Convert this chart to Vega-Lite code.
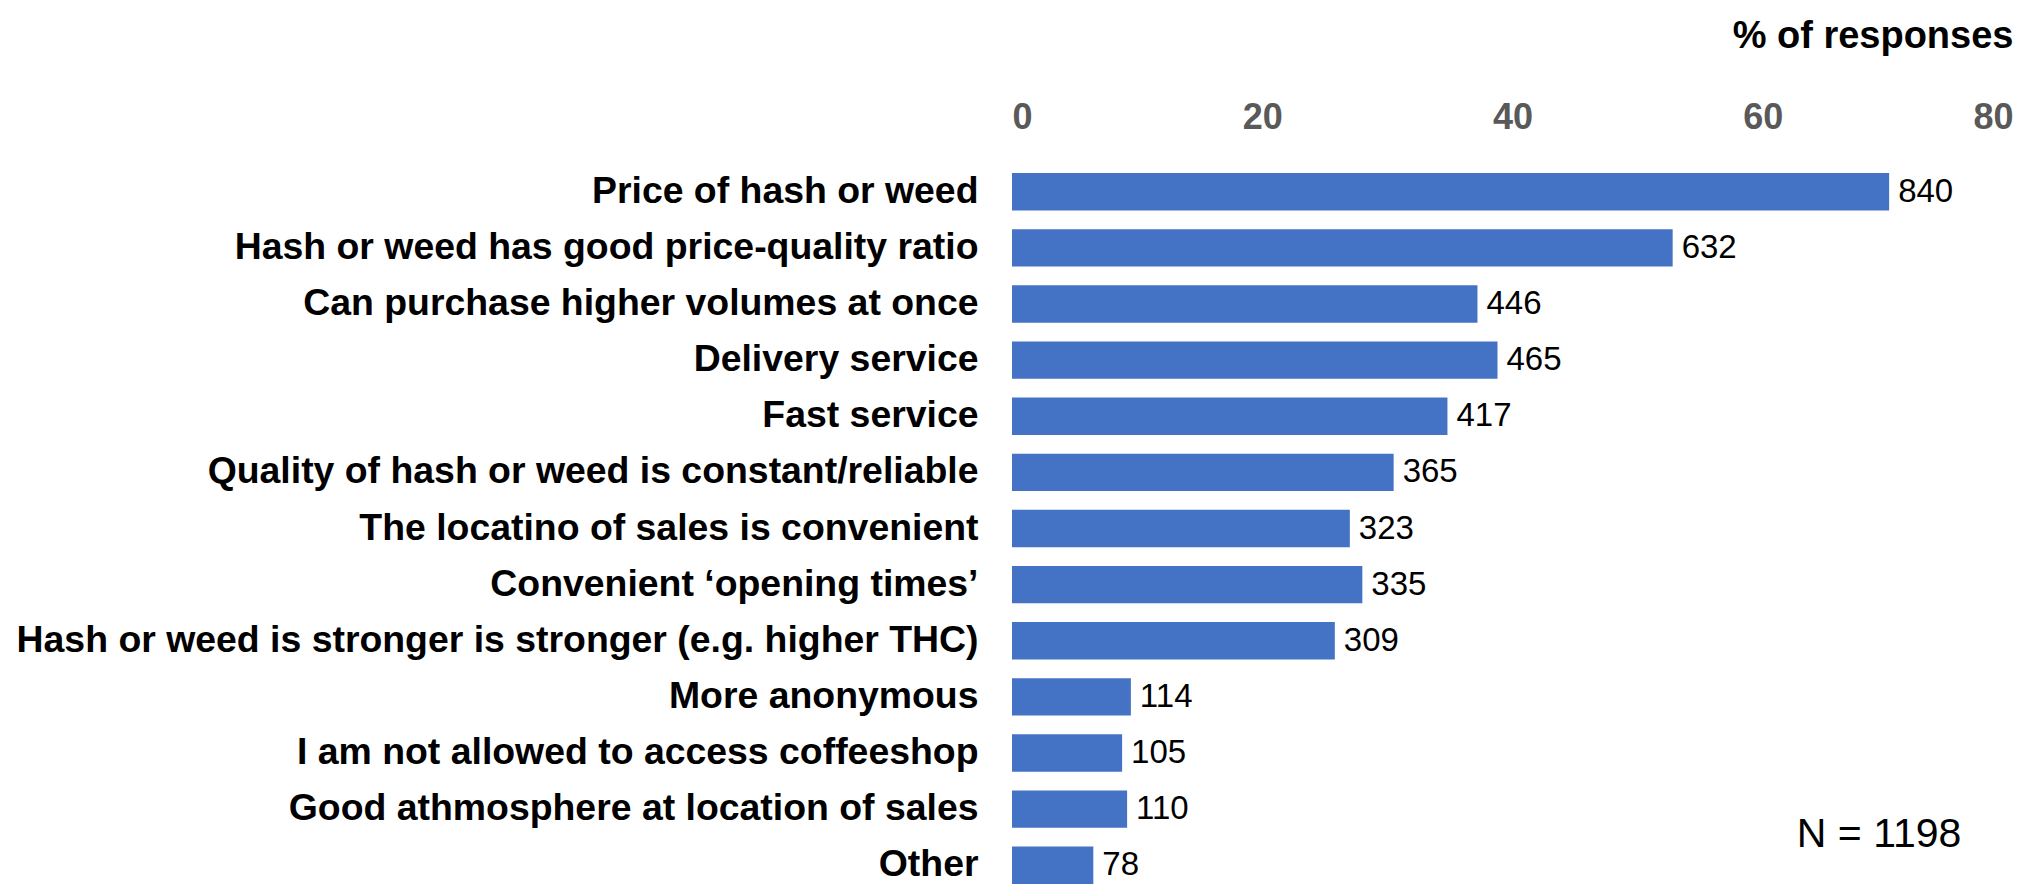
{
  "$schema": "https://vega.github.io/schema/vega-lite/v6.json",
  "width": 1001,
  "height": 711,
  "autosize": {"type": "none"},
  "padding": {"left": 1012, "top": 173, "right": 31, "bottom": 0},
  "background": "white",
  "config": {"view": {"stroke": null}, "font": "Liberation Sans"},
  "layer": [
    {
      "data": {
        "values": [
          {"reason": "Price of hash or weed", "pct": 70.1, "count": 840},
          {"reason": "Hash or weed has good price-quality ratio", "pct": 52.8, "count": 632},
          {"reason": "Can purchase higher volumes at once", "pct": 37.2, "count": 446},
          {"reason": "Delivery service", "pct": 38.8, "count": 465},
          {"reason": "Fast service", "pct": 34.8, "count": 417},
          {"reason": "Quality of hash or weed is constant/reliable", "pct": 30.5, "count": 365},
          {"reason": "The locatino of sales is convenient", "pct": 27.0, "count": 323},
          {"reason": "Convenient ‘opening times’", "pct": 28.0, "count": 335},
          {"reason": "Hash or weed is stronger is stronger (e.g. higher THC)", "pct": 25.8, "count": 309},
          {"reason": "More anonymous", "pct": 9.5, "count": 114},
          {"reason": "I am not allowed to access coffeeshop", "pct": 8.8, "count": 105},
          {"reason": "Good athmosphere at location of sales", "pct": 9.2, "count": 110},
          {"reason": "Other", "pct": 6.5, "count": 78}
        ]
      },
      "encoding": {
        "y": {
          "field": "reason",
          "type": "nominal",
          "sort": null,
          "scale": {"paddingInner": 0.333, "paddingOuter": 0},
          "axis": {
            "title": null,
            "domain": false,
            "ticks": false,
            "grid": false,
            "labelFontSize": 37.4,
            "labelFontWeight": "bold",
            "labelColor": "#000000",
            "labelPadding": 34,
            "labelLimit": 2000
          }
        },
        "x": {
          "field": "pct",
          "type": "quantitative",
          "scale": {"domain": [0, 80]},
          "axis": {
            "orient": "top",
            "values": [0, 20, 40, 60, 80],
            "domain": false,
            "ticks": false,
            "grid": false,
            "labelFontSize": 36,
            "labelFontWeight": "bold",
            "labelColor": "#595959",
            "labelPadding": 37,
            "title": "% of responses",
            "titleFontSize": 38,
            "titleFontWeight": "bold",
            "titleColor": "#000000",
            "titleAnchor": "end",
            "titleAlign": "right",
            "titleBaseline": "alphabetic",
            "titlePadding": 52
          }
        }
      },
      "layer": [
        {"mark": {"type": "bar", "color": "#4472C4"}},
        {
          "mark": {"type": "text", "align": "left", "baseline": "middle", "dx": 9, "fontSize": 33, "color": "#000000"},
          "encoding": {"text": {"field": "count"}}
        }
      ]
    },
    {
      "data": {"values": [{"note": "N = 1198", "xpos": 69.3, "row": "Good athmosphere at location of sales"}]},
      "mark": {"type": "text", "align": "center", "baseline": "middle", "dy": 26, "fontSize": 41, "color": "#000000"},
      "encoding": {
        "x": {"field": "xpos", "type": "quantitative"},
        "y": {"field": "row", "type": "nominal", "sort": null},
        "text": {"field": "note"}
      }
    }
  ]
}
